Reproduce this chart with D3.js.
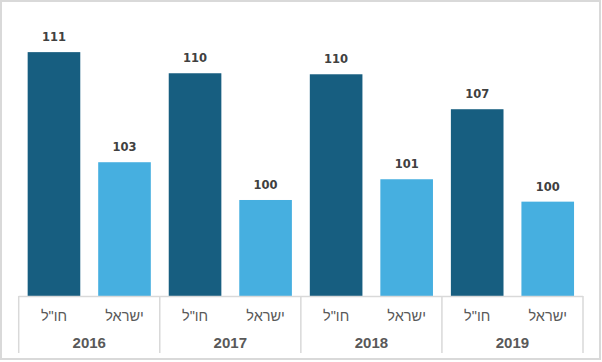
<!DOCTYPE html>
<html><head><meta charset="utf-8">
<script src="https://cdnjs.cloudflare.com/ajax/libs/d3/7.8.5/d3.min.js"></script>
<style>html,body{margin:0;padding:0;background:#fff;}svg{display:block;}</style>
</head><body>
<svg id="chart" width="602" height="362"></svg>
<script>
// Data
const years = ["2016", "2017", "2018", "2019"];
const categories = ['חו"ל', "ישראל"];
const abroadValues = [111.3, 109.65, 109.57, 106.84];   // חו"ל
const israelValues = [102.7, 99.75, 101.37, 99.62];     // ישראל
const colors = ["#175E80", "#46AFE0"];

const svg = d3.select("#chart");
const W = 602, H = 362;

// frame
svg.append("rect").attr("x", 1).attr("y", 1).attr("width", W - 3).attr("height", H - 4)
  .attr("fill", "#fff").attr("stroke", "#D9D9D9").attr("stroke-width", 2);

const x0 = d3.scaleBand().domain(years).range([18.7, 583]).padding(0);
const x1 = d3.scaleBand().domain(categories).range([0, x0.bandwidth()])
  .paddingInner(0.254).paddingOuter(0.127);
const y = d3.scaleLinear().domain([92.25, 113.81]).range([296, 20]);

const rows = years.map((yr, i) => ({year: yr, vals: [abroadValues[i], israelValues[i]]}));

const g = svg.append("g");
const groups = g.selectAll("g.grp").data(rows).join("g")
  .attr("class", "grp").attr("transform", d => `translate(${x0(d.year)},0)`);

groups.selectAll("rect").data(d => d.vals.map((v, j) => ({cat: categories[j], v, j}))).join("rect")
  .attr("x", d => x1(d.cat)).attr("width", x1.bandwidth())
  .attr("y", d => y(d.v)).attr("height", d => y(y.domain()[0]) - y(d.v))
  .attr("fill", d => colors[d.j]);

groups.selectAll("text.val").data(d => d.vals.map((v, j) => ({cat: categories[j], v, j}))).join("text")
  .attr("class", "val")
  .attr("x", d => x1(d.cat) + x1.bandwidth() / 2)
  .attr("y", d => y(d.v) - 11)
  .attr("text-anchor", "middle")
  .attr("font-family", "DejaVu Sans, sans-serif").attr("font-weight", "bold").attr("font-size", 11.5)
  .attr("fill", "#404040")
  .text(d => d3.format(".0f")(d.v));

// category axis
const axisCol = "#D9D9D9";
g.append("line").attr("x1", x0.range()[0]).attr("x2", x0.range()[1])
  .attr("y1", 296.5).attr("y2", 296.5).attr("stroke", axisCol).attr("stroke-width", 1.5);
const seps = years.map(yr => x0(yr)).concat([x0.range()[1]]);
g.selectAll("line.sep").data(seps).join("line").attr("class", "sep")
  .attr("x1", d => d).attr("x2", d => d).attr("y1", 296).attr("y2", 353)
  .attr("stroke", axisCol).attr("stroke-width", 1.5);

groups.selectAll("text.cat").data(categories).join("text").attr("class", "cat")
  .attr("x", d => x1(d) + x1.bandwidth() / 2).attr("y", 321)
  .attr("text-anchor", "middle").attr("direction", "rtl")
  .attr("font-family", "Liberation Sans, Arial, sans-serif").attr("font-size", 14.5)
  .attr("fill", "#595959").text(d => d);

groups.append("text").attr("class", "yr")
  .attr("x", x0.bandwidth() / 2).attr("y", 348)
  .attr("text-anchor", "middle")
  .attr("font-family", "Liberation Sans, Arial, sans-serif").attr("font-size", 15)
  .attr("font-weight", "bold")
  .attr("fill", "#595959").text(d => d.year);
</script>
</body></html>
